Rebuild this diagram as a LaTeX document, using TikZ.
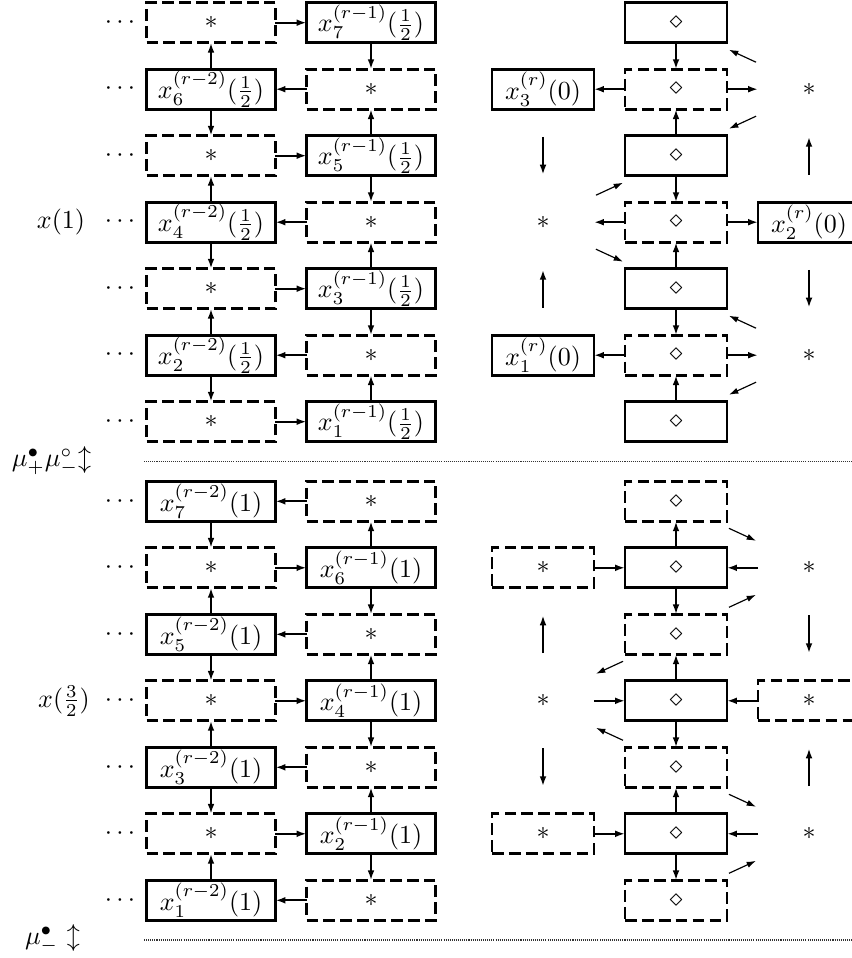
\documentclass[tikz,border=0pt]{standalone}
\usetikzlibrary{arrows.meta}
\begin{document}
\begin{tikzpicture}[x=0.3846pt,y=-0.3846pt,
  wide/.style={rectangle,minimum width=49.6pt,minimum height=15.4pt,inner sep=0pt,outer sep=0pt},
  narrow/.style={rectangle,minimum width=39.2pt,minimum height=15.4pt,inner sep=0pt,outer sep=0pt},
  sbx/.style={draw,line width=1.05pt},
  dbx/.style={draw,line width=1.05pt,dash pattern=on 4.5pt off 2pt},
  arr/.style={-{Latex[length=3.8pt,width=2.6pt]},line width=0.85pt},
  darr/.style={-{Latex[length=3.6pt,width=2.4pt]},line width=0.45pt},
  varr/.style={arr,shorten <=10.6pt,shorten >=10.6pt},
  sep/.style={dash pattern=on 0.4pt off 0.4pt,line width=0.6pt,black!80},
  lbl/.style={inner sep=0pt}]
\useasboundingbox (0,0) rectangle (852,958);

% ================= TOP HALF =================
\node[wide,dbx] (tA0) at (211,22.7) {$\ast$};
\node[wide,sbx] (tA1) at (211,89.2) {$x_6^{(r-2)}(\frac{1}{2})$};
\node[wide,dbx] (tA2) at (211,155.7) {$\ast$};
\node[wide,sbx] (tA3) at (211,222.2) {$x_4^{(r-2)}(\frac{1}{2})$};
\node[wide,dbx] (tA4) at (211,288.7) {$\ast$};
\node[wide,sbx] (tA5) at (211,355.2) {$x_2^{(r-2)}(\frac{1}{2})$};
\node[wide,dbx] (tA6) at (211,421.7) {$\ast$};

\node[wide,sbx] (tB0) at (371,22.7) {$x_7^{(r-1)}(\frac{1}{2})$};
\node[wide,dbx] (tB1) at (371,89.2) {$\ast$};
\node[wide,sbx] (tB2) at (371,155.7) {$x_5^{(r-1)}(\frac{1}{2})$};
\node[wide,dbx] (tB3) at (371,222.2) {$\ast$};
\node[wide,sbx] (tB4) at (371,288.7) {$x_3^{(r-1)}(\frac{1}{2})$};
\node[wide,dbx] (tB5) at (371,355.2) {$\ast$};
\node[wide,sbx] (tB6) at (371,421.7) {$x_1^{(r-1)}(\frac{1}{2})$};

\foreach \y/\n in {22.7/0,89.2/1,155.7/2,222.2/3,288.7/4,355.2/5,421.7/6}
  \node[lbl] (tdots\n) at (120,\y) {$\cdots$};
\node[lbl] (tx) at (61,222.2) {$x(1)$};

\draw[arr] (tA0) -- (tB0);
\draw[arr] (tB1) -- (tA1);
\draw[arr] (tA2) -- (tB2);
\draw[arr] (tB3) -- (tA3);
\draw[arr] (tA4) -- (tB4);
\draw[arr] (tB5) -- (tA5);
\draw[arr] (tA6) -- (tB6);

\draw[arr] (tA1) -- (tA0);
\draw[arr] (tA1) -- (tA2);
\draw[arr] (tA3) -- (tA2);
\draw[arr] (tA3) -- (tA4);
\draw[arr] (tA5) -- (tA4);
\draw[arr] (tA5) -- (tA6);

\draw[arr] (tB0) -- (tB1);
\draw[arr] (tB2) -- (tB1);
\draw[arr] (tB2) -- (tB3);
\draw[arr] (tB4) -- (tB3);
\draw[arr] (tB4) -- (tB5);
\draw[arr] (tB6) -- (tB5);

\node[narrow,sbx] (tD0) at (676,22.7) {$\diamond$};
\node[narrow,dbx] (tD1) at (676,89.2) {$\diamond$};
\node[narrow,sbx] (tD2) at (676,155.7) {$\diamond$};
\node[narrow,dbx] (tD3) at (676,222.2) {$\diamond$};
\node[narrow,sbx] (tD4) at (676,288.7) {$\diamond$};
\node[narrow,dbx] (tD5) at (676,355.2) {$\diamond$};
\node[narrow,sbx] (tD6) at (676,421.7) {$\diamond$};

\node[narrow,sbx] (tC1) at (543,89.2) {$x_3^{(r)}(0)$};
\node[narrow] (tC3) at (543,222.2) {$\ast$};
\node[narrow,sbx] (tC5) at (543,355.2) {$x_1^{(r)}(0)$};
\node[narrow] (tE1) at (809,89.2) {$\ast$};
\node[narrow,sbx] (tE3) at (809,222.2) {$x_2^{(r)}(0)$};
\node[narrow] (tE5) at (809,355.2) {$\ast$};

\draw[arr] (tD0) -- (tD1);
\draw[arr] (tD2) -- (tD1);
\draw[arr] (tD2) -- (tD3);
\draw[arr] (tD4) -- (tD3);
\draw[arr] (tD4) -- (tD5);
\draw[arr] (tD6) -- (tD5);

\draw[arr] (tD1) -- (tC1);
\draw[arr] (tD1) -- (tE1);
\draw[arr] (tD3) -- (tC3);
\draw[arr] (tD3) -- (tE3);
\draw[arr] (tD5) -- (tC5);
\draw[arr] (tD5) -- (tE5);

\draw[varr] (tC1) -- (tC3);
\draw[varr] (tC5) -- (tC3);
\draw[varr] (tE3) -- (tE1);
\draw[varr] (tE3) -- (tE5);

\draw[darr] ([shift={(-2,-27)}]tE1.west) -- ([shift={(2,27)}]tD0.east);
\draw[darr] ([shift={(-2,27)}]tE1.west) -- ([shift={(2,-27)}]tD2.east);
\draw[darr] ([shift={(2,-27)}]tC3.east) -- ([shift={(-2,27)}]tD2.west);
\draw[darr] ([shift={(2,27)}]tC3.east) -- ([shift={(-2,-27)}]tD4.west);
\draw[darr] ([shift={(-2,-27)}]tE5.west) -- ([shift={(2,27)}]tD4.east);
\draw[darr] ([shift={(-2,27)}]tE5.west) -- ([shift={(2,-27)}]tD6.east);

% separator 1
\node[lbl] (mu1) at (51.5,461) {$\mu^{\bullet}_{+}\mu^{\circ}_{-}\mathord{\updownarrow}$};
\coordinate (s1a) at (144,461.7);
\coordinate (s1b) at (860,461.7);
\draw[sep] (s1a) -- (s1b);

% ================= BOTTOM HALF =================
\node[wide,sbx] (bA0) at (211,501.3) {$x_7^{(r-2)}(1)$};
\node[wide,dbx] (bA1) at (211,567.8) {$\ast$};
\node[wide,sbx] (bA2) at (211,634.3) {$x_5^{(r-2)}(1)$};
\node[wide,dbx] (bA3) at (211,700.8) {$\ast$};
\node[wide,sbx] (bA4) at (211,767.3) {$x_3^{(r-2)}(1)$};
\node[wide,dbx] (bA5) at (211,833.8) {$\ast$};
\node[wide,sbx] (bA6) at (211,900.3) {$x_1^{(r-2)}(1)$};

\node[wide,dbx] (bB0) at (371,501.3) {$\ast$};
\node[wide,sbx] (bB1) at (371,567.8) {$x_6^{(r-1)}(1)$};
\node[wide,dbx] (bB2) at (371,634.3) {$\ast$};
\node[wide,sbx] (bB3) at (371,700.8) {$x_4^{(r-1)}(1)$};
\node[wide,dbx] (bB4) at (371,767.3) {$\ast$};
\node[wide,sbx] (bB5) at (371,833.8) {$x_2^{(r-1)}(1)$};
\node[wide,dbx] (bB6) at (371,900.3) {$\ast$};

\foreach \y/\n in {501.3/0,567.8/1,634.3/2,700.8/3,767.3/4,833.8/5,900.3/6}
  \node[lbl] (bdots\n) at (120,\y) {$\cdots$};
\node[lbl] (bx) at (64,700.8) {$x(\frac{3}{2})$};

\draw[arr] (bB0) -- (bA0);
\draw[arr] (bA1) -- (bB1);
\draw[arr] (bB2) -- (bA2);
\draw[arr] (bA3) -- (bB3);
\draw[arr] (bB4) -- (bA4);
\draw[arr] (bA5) -- (bB5);
\draw[arr] (bB6) -- (bA6);

\draw[arr] (bA0) -- (bA1);
\draw[arr] (bA2) -- (bA1);
\draw[arr] (bA2) -- (bA3);
\draw[arr] (bA4) -- (bA3);
\draw[arr] (bA4) -- (bA5);
\draw[arr] (bA6) -- (bA5);

\draw[arr] (bB1) -- (bB0);
\draw[arr] (bB1) -- (bB2);
\draw[arr] (bB3) -- (bB2);
\draw[arr] (bB3) -- (bB4);
\draw[arr] (bB5) -- (bB4);
\draw[arr] (bB5) -- (bB6);

\node[narrow,dbx] (bD0) at (676,501.3) {$\diamond$};
\node[narrow,sbx] (bD1) at (676,567.8) {$\diamond$};
\node[narrow,dbx] (bD2) at (676,634.3) {$\diamond$};
\node[narrow,sbx] (bD3) at (676,700.8) {$\diamond$};
\node[narrow,dbx] (bD4) at (676,767.3) {$\diamond$};
\node[narrow,sbx] (bD5) at (676,833.8) {$\diamond$};
\node[narrow,dbx] (bD6) at (676,900.3) {$\diamond$};

\node[narrow,dbx] (bC1) at (543,567.8) {$\ast$};
\node[narrow] (bC3) at (543,700.8) {$\ast$};
\node[narrow,dbx] (bC5) at (543,833.8) {$\ast$};
\node[narrow] (bE1) at (809,567.8) {$\ast$};
\node[narrow,dbx] (bE3) at (809,700.8) {$\ast$};
\node[narrow] (bE5) at (809,833.8) {$\ast$};

\draw[arr] (bD1) -- (bD0);
\draw[arr] (bD1) -- (bD2);
\draw[arr] (bD3) -- (bD2);
\draw[arr] (bD3) -- (bD4);
\draw[arr] (bD5) -- (bD4);
\draw[arr] (bD5) -- (bD6);

\draw[arr] (bC1) -- (bD1);
\draw[arr] (bE1) -- (bD1);
\draw[arr] (bC3) -- (bD3);
\draw[arr] (bE3) -- (bD3);
\draw[arr] (bC5) -- (bD5);
\draw[arr] (bE5) -- (bD5);

\draw[varr] (bC3) -- (bC1);
\draw[varr] (bC3) -- (bC5);
\draw[varr] (bE1) -- (bE3);
\draw[varr] (bE5) -- (bE3);

\draw[darr] ([shift={(2,27)}]bD0.east) -- ([shift={(-2,-27)}]bE1.west);
\draw[darr] ([shift={(2,-27)}]bD2.east) -- ([shift={(-2,27)}]bE1.west);
\draw[darr] ([shift={(-2,27)}]bD2.west) -- ([shift={(2,-27)}]bC3.east);
\draw[darr] ([shift={(-2,-27)}]bD4.west) -- ([shift={(2,27)}]bC3.east);
\draw[darr] ([shift={(2,27)}]bD4.east) -- ([shift={(-2,-27)}]bE5.west);
\draw[darr] ([shift={(2,-27)}]bD6.east) -- ([shift={(-2,27)}]bE5.west);

% separator 2
\node[lbl] (mu2) at (52.5,939) {$\mu^{\bullet}_{-}\ \mathord{\updownarrow}$};
\coordinate (s2a) at (144,940);
\coordinate (s2b) at (860,940);
\draw[sep] (s2a) -- (s2b);
\end{tikzpicture}
\end{document}
